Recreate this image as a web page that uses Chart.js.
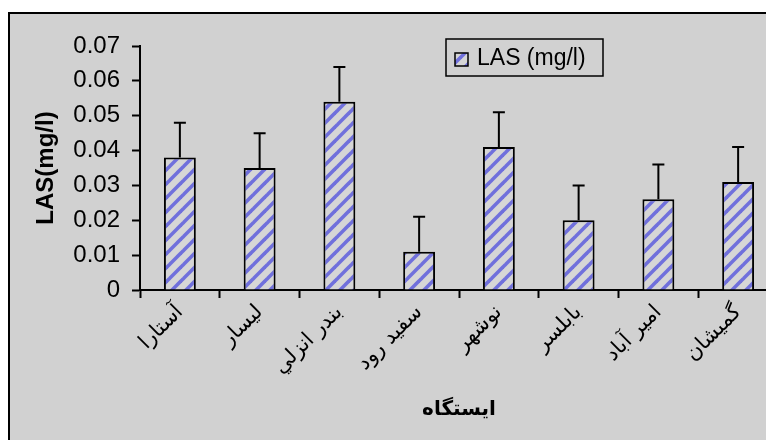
<!DOCTYPE html>
<html>
<head>
<meta charset="utf-8">
<script src="https://cdn.jsdelivr.net/npm/chart.js@4/dist/chart.umd.min.js"></script>
<style>
  html, body { margin: 0; padding: 0; width: 766px; height: 440px; overflow: hidden; background: #ffffff; }
  #frame { position: absolute; left: 8px; top: 12px; width: 900px; height: 500px;
           background: #d1d1d1; border-left: 2px solid #000; border-top: 2px solid #000; }
  #c { position: absolute; left: 0; top: 0; }
</style>
</head>
<body>
<div id="frame"></div>
<canvas id="c" width="830" height="440"></canvas>
<script>
// Sampling stations along the southern Caspian coast
const stations = ['آستارا', 'ليسار', 'بندر انزلي', 'سفيد رود', 'نوشهر', 'بابلسر', 'امير آباد', 'گميشان'];
// Mean LAS concentration (mg/l) per station
const lasMean = [0.038, 0.035, 0.054, 0.011, 0.041, 0.020, 0.026, 0.031];
// Upper error (mg/l) per station
const lasError = [0.010, 0.010, 0.010, 0.010, 0.010, 0.010, 0.010, 0.010];
// Value axis ticks
const yTicks = [0, 0.01, 0.02, 0.03, 0.04, 0.05, 0.06, 0.07];
const yTickLabels = ['0', '0.01', '0.02', '0.03', '0.04', '0.05', '0.06', '0.07'];

const canvas = document.getElementById('c');
const ctx = canvas.getContext('2d');

// Diagonal "/" hatch used for the bars and the legend swatch
function stripePattern() {
  const size = 14;
  const t = document.createElement('canvas');
  t.width = size; t.height = size;
  const g = t.getContext('2d');
  g.fillStyle = '#d6d6d6';
  g.fillRect(0, 0, size, size);
  g.strokeStyle = '#7070dc';
  g.lineWidth = 3.6;
  for (const k of [-size, 0, size]) {
    g.beginPath();
    g.moveTo(k - size, size * 2);
    g.lineTo(k + size * 2, -size);
    g.stroke();
  }
  return ctx.createPattern(t, 'repeat');
}
const hatch = stripePattern();

// Upward error bars with caps
const errorBars = {
  id: 'errorBars',
  afterDatasetsDraw(chart) {
    const meta = chart.getDatasetMeta(0);
    const y = chart.scales.y;
    const c = chart.ctx;
    c.save();
    c.strokeStyle = '#000';
    c.lineWidth = 2;
    meta.data.forEach((bar, i) => {
      const v = lasMean[i];
      const top = y.getPixelForValue(v + lasError[i]);
      const base = y.getPixelForValue(v);
      c.beginPath();
      c.moveTo(bar.x, base);
      c.lineTo(bar.x, top);
      c.moveTo(bar.x - 6, top);
      c.lineTo(bar.x + 6, top);
      c.stroke();
    });
    c.restore();
  }
};

// Boxed legend inside the plot area
const boxLegend = {
  id: 'boxLegend',
  afterDraw(chart) {
    const c = chart.ctx;
    const a = chart.chartArea;
    const x = a.left + 306, y = a.top - 7, w = 157, h = 37;
    c.save();
    c.strokeStyle = '#000';
    c.lineWidth = 1.5;
    c.strokeRect(x, y, w, h);
    c.fillStyle = hatch;
    c.fillRect(x + 9, y + 14, 13, 13);
    c.strokeRect(x + 9, y + 14, 13, 13);
    c.fillStyle = '#000';
    c.font = '23px "Liberation Sans", Arial, sans-serif';
    c.textBaseline = 'middle';
    c.textAlign = 'left';
    c.fillText(chart.data.datasets[0].label, x + 31, y + h / 2 + 1);
    c.restore();
  }
};

new Chart(canvas, {
  type: 'bar',
  data: {
    labels: stations,
    datasets: [{
      label: 'LAS (mg/l)',
      data: lasMean,
      backgroundColor: hatch,
      borderColor: '#000',
      borderWidth: 2,
      borderSkipped: 'bottom',
      barPercentage: 0.4,
      categoryPercentage: 1.0
    }]
  },
  options: {
    responsive: false,
    animation: false,
    devicePixelRatio: 1,
    layout: { padding: { left: 0, right: 52, top: 46, bottom: 0 } },
    plugins: { legend: { display: false }, tooltip: { enabled: false } },
    scales: {
      x: {
        grid: { drawOnChartArea: false, drawTicks: true, tickLength: 8, tickWidth: 2, tickColor: '#000', offset: true },
        border: { display: true, color: '#000', width: 2 },
        ticks: {
          color: '#000', autoSkip: false, minRotation: 45, maxRotation: 45, padding: 2,
          font: { family: '"DejaVu Sans", sans-serif', size: 21 }
        },
        title: {
          display: true, text: 'ایستگاه', color: '#000',
          font: { family: '"DejaVu Sans", sans-serif', size: 20, weight: 'bold' },
          padding: { top: 0, bottom: 18 }
        },
        afterFit(s) { s.height = 150; }
      },
      y: {
        min: 0, max: 0.07,
        afterBuildTicks(s) { s.ticks = yTicks.map(v => ({ value: v })); },
        grid: { drawOnChartArea: false, drawTicks: true, tickLength: 8, tickWidth: 2, tickColor: '#000' },
        border: { display: true, color: '#000', width: 2 },
        ticks: {
          color: '#000', padding: 12,
          font: { family: '"Liberation Sans", Arial, sans-serif', size: 24 },
          callback: (v, i) => yTickLabels[i]
        },
        title: {
          display: true, text: 'LAS(mg/l)', color: '#000',
          font: { family: '"Liberation Sans", Arial, sans-serif', size: 24, weight: 'bold' },
          padding: { top: 31.6, bottom: 0 }
        },
        afterFit(s) { s.width = 140; }
      }
    }
  },
  plugins: [errorBars, boxLegend]
});
</script>
</body>
</html>
